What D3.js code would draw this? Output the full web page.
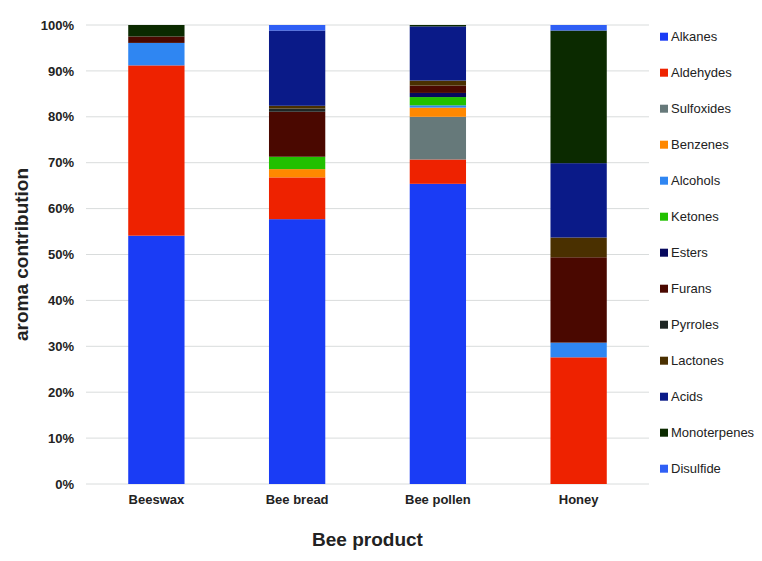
<!DOCTYPE html>
<html>
<head>
<meta charset="utf-8">
<script src="https://cdn.jsdelivr.net/npm/d3@7"></script>
<style>
  body { margin: 0; background: #fff; }
  svg { display: block; font-family: "Liberation Sans", Arial, sans-serif; }
</style>
</head>
<body>
<svg id="chart" width="762" height="561"></svg>
<script>
const products = ["Beeswax", "Bee bread", "Bee pollen", "Honey"];
const compounds = ["Alkanes", "Aldehydes", "Sulfoxides", "Benzenes", "Alcohols", "Ketones", "Esters", "Furans", "Pyrroles", "Lactones", "Acids", "Monoterpenes", "Disulfide"];
const colors = ["#1a3cf5", "#ee2200", "#66797a", "#ff8800", "#2f86f2", "#22c000", "#07095e", "#4a0800", "#1e2624", "#4a3000", "#0a1a88", "#0b2a00", "#2f5ff5"];
// values in % per product, in compound order
const beeswax   = [54.1, 37.1, 0,   0,   4.9, 0,   0,   1.4, 0,   0,   0,    2.5,  0];
const beeBread  = [57.7, 9.1,  0,   1.8, 0,   2.7, 0,   9.8, 0.7, 0.6, 16.4, 0,    1.2];
const beePollen = [65.4, 5.3,  9.3, 2.0, 0.5, 1.8, 0.9, 1.6, 0,   1.1, 11.8, 0.3,  0];
const honey     = [0,    27.6, 0,   0,   3.2, 0,   0,   18.6,0,   4.3, 16.2, 28.9, 1.2];
const yTicks = [0, 10, 20, 30, 40, 50, 60, 70, 80, 90, 100];

const seriesByProduct = [beeswax, beeBread, beePollen, honey];
const rows = products.map((p, i) => {
  const r = { product: p };
  compounds.forEach((c, j) => r[c] = seriesByProduct[i][j]);
  return r;
});

const svg = d3.select("#chart");
const m = { left: 86, right: 113, top: 25, bottom: 77 };
const W = 762, H = 561;
const x = d3.scaleBand().domain(products).range([m.left, W - m.right]).paddingInner(0.6).paddingOuter(0.3);
const y = d3.scaleLinear().domain([0, 100]).range([H - m.bottom, m.top]);
const color = d3.scaleOrdinal().domain(compounds).range(colors);

// gridlines
svg.append("g").selectAll("line").data(yTicks).join("line")
  .attr("x1", m.left).attr("x2", W - m.right)
  .attr("y1", d => y(d)).attr("y2", d => y(d))
  .attr("stroke", "#d9dcdc").attr("stroke-width", 1);

// y axis
const yAxis = svg.append("g").attr("transform", `translate(${m.left},0)`)
  .call(d3.axisLeft(y).tickValues(yTicks).tickFormat(d => d + "%").tickSize(0).tickPadding(12));
yAxis.select(".domain").remove();
yAxis.selectAll("text").attr("font-size", 13).attr("font-weight", "bold").attr("fill", "#222")
  .attr("font-family", "Liberation Sans, Arial, sans-serif");

// stacked bars
const stack = d3.stack().keys(compounds)(rows);
svg.append("g").selectAll("g").data(stack).join("g")
  .attr("fill", d => color(d.key))
  .selectAll("rect").data(d => d).join("rect")
  .attr("x", d => x(d.data.product))
  .attr("width", x.bandwidth())
  .attr("y", d => y(d[1]))
  .attr("height", d => Math.max(0, y(d[0]) - y(d[1])));

// x axis
const xAxis = svg.append("g").attr("transform", `translate(0,${y(0)})`)
  .call(d3.axisBottom(x).tickSize(0).tickPadding(11));
xAxis.select(".domain").remove();
xAxis.selectAll("text").attr("font-size", 13).attr("font-weight", "bold").attr("fill", "#222")
  .attr("font-family", "Liberation Sans, Arial, sans-serif");

// axis titles
svg.append("text").attr("x", (m.left + W - m.right) / 2).attr("y", 546)
  .attr("text-anchor", "middle").attr("font-size", 19).attr("font-weight", "bold").attr("fill", "#222")
  .text("Bee product");
svg.append("text").attr("transform", `translate(28,${y(50)}) rotate(-90)`)
  .attr("text-anchor", "middle").attr("font-size", 19).attr("font-weight", "bold").attr("fill", "#222")
  .text("aroma contribution");

// legend
const lg = svg.append("g").selectAll("g").data(compounds).join("g")
  .attr("transform", (d, i) => `translate(660,${36.7 + i * 36})`);
lg.append("rect").attr("x", 0).attr("y", -4).attr("width", 8).attr("height", 8)
  .attr("fill", d => color(d));
lg.append("text").attr("x", 11).attr("y", 0).attr("dy", "0.35em")
  .attr("font-size", 13).attr("fill", "#222").text(d => d);
</script>
</body>
</html>
